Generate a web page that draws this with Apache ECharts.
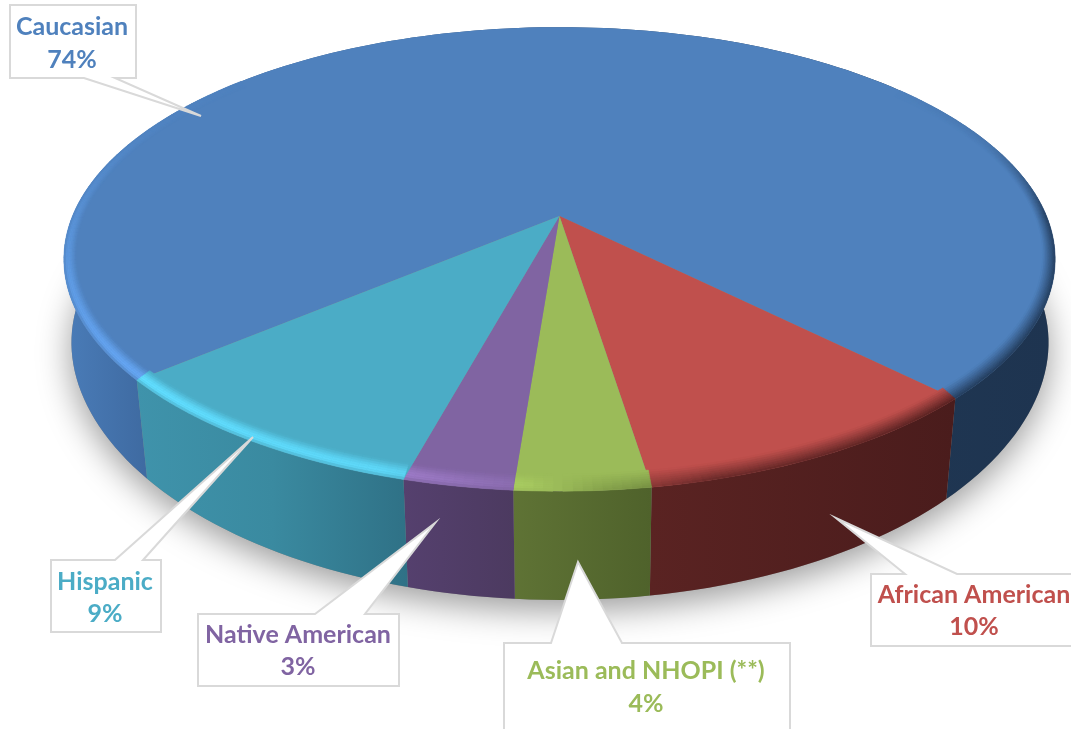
<!DOCTYPE html>
<html>
<head>
<meta charset="utf-8">
<style>
  html, body { margin: 0; background: #fff; overflow: hidden; }
  #chart { width: 1071px; height: 729px; }
</style>
<script src="https://cdn.jsdelivr.net/npm/echarts@6/dist/echarts.min.js"></script>
</head>
<body>
<div id="chart"></div>
<script>
const categories = ['Caucasian', 'African American', 'Asian and NHOPI (**)', 'Native American', 'Hispanic']
const shares = [73.7, 10.0, 3.7, 3.0, 9.6]
const shareLabels = ['74%', '10%', '4%', '3%', '9%']

const topColors = ['#4f81bd', '#c0504d', '#9bbb59', '#8064a2', '#4bacc6']
const sideStops = [
  [[0, '#4a7cb8'], [0.08, '#3f6ba2'], [0.85, '#1f3652'], [1, '#1e3450']],
  [[0, '#5a2322'], [1, '#4a1c1c']],
  [[0, '#5f7335'], [1, '#4f622b']],
  [[0, '#55406e'], [1, '#4c3a60']],
  [[0, '#3f93ab'], [0.5, '#3a8aa0'], [1, '#2f7186']]
]

// picture geometry
const START_ANGLE = 139.8
const TOP = { cx: 559.5, cy: 216, a: 487, b: 224, k: 0.186 }
const BOTTOM = { cx: 560, cy: 299, a: 475, b: 245, k: 0.186, bulge: 0.012 }

// left, top, right, bottom, wedge side, wedge base a, wedge base b, tip x, tip y, text x, line 1 y, line 2 y
const calloutBoxes = [
  [10, 5, 136, 78, 'bottom', 84, 115, 201, 116, 72, 27, 60],
  [871, 574, 1090, 646, 'top', 905, 957, 836, 518, 974, 595, 627],
  [504, 643, 790, 740, 'top', 551, 622, 578, 562, 646, 671, 704],
  [198, 614, 399, 686, 'top', 315, 365, 435, 523, 298, 635, 667],
  [51, 560, 161, 632, 'top', 115, 143, 253, 437, 105, 582, 614]
]

// bevel light around the rim: [angle, light], positive = highlight, negative = shaded
const rimLight = [[0, -0.85], [45, -0.9], [75, -0.75], [86, -0.3], [93, 0.2], [108, 0.75], [140, 0.85],
  [165, 0.6], [185, 0.3], [205, 0.08], [225, 0], [320, 0], [340, -0.15], [352, -0.55], [360, -0.85]]
const RIM_STEPS = 8
const RIM_U = 0.024
const RIM_V = 0.052

const project = (plane, deg, su = 1, sv = 1) => {
  const t = deg * Math.PI / 180
  const u = Math.cos(t) * su * (1 + (plane.bulge || 0) * Math.pow(Math.cos(t), 8))
  const v = Math.sin(t) * sv
  const w = 1 - plane.k * v
  return [plane.cx + plane.a * u / w, plane.cy + plane.b * v / w]
}

const arc = (plane, from, to, su, sv) => {
  const n = Math.max(2, Math.ceil((to - from) / 1.5))
  const pts = []
  for (let i = 0; i <= n; i++) {
    pts.push(project(plane, from + (to - from) * i / n, su, sv))
  }
  return pts
}

const toRgb = hex => [1, 3, 5].map(i => parseInt(hex.substr(i, 2), 16))
const rgbStr = c => `rgb(${c.map(x => Math.max(0, Math.min(255, Math.round(x)))).join(',')})`

const lightAt = deg => {
  const d = ((deg % 360) + 360) % 360
  for (let i = 1; i < rimLight.length; i++) {
    if (d <= rimLight[i][0]) {
      const [a0, l0] = rimLight[i - 1]
      const [a1, l1] = rimLight[i]
      return l0 + (l1 - l0) * (d - a0) / (a1 - a0)
    }
  }
  return 0
}

const rimColor = (index, deg, t) => {
  const base = toRgb(topColors[index])
  const light = lightAt(deg)
  if (light >= 0) {
    const glow = Math.pow(Math.sin(Math.PI * Math.pow(t, 0.6)), 1.3)
    const m = 1 + 0.34 * light * glow
    return rgbStr(base.map(x => x * m))
  }
  const stops = sideStops[index]
  const dark = toRgb(stops[stops.length - 1][1])
  const f = -light * Math.pow(1 - t, 1.1)
  return rgbStr(base.map((x, i) => x + (dark[i] - x) * f))
}

let cursor = START_ANGLE
const rows = shares.map(s => {
  const row = [s, cursor, cursor + s * 3.6]
  cursor = row[2]
  return row
})

const renderSide = (params, api) => {
  const index = params.dataIndex
  const from = api.value(1)
  const to = api.value(2)
  const children = []
  if (index === 0) {
    children.push({
      type: 'polygon',
      shape: { points: arc(BOTTOM, 0, 360) },
      style: { fill: '#888', shadowBlur: 34, shadowColor: 'rgba(0,0,0,0.4)', shadowOffsetX: 0, shadowOffsetY: 10 }
    })
  }
  const xs = arc(TOP, from, to).concat(arc(BOTTOM, from, to)).map(p => p[0])
  const x0 = Math.min(...xs)
  const x1 = Math.max(...xs)
  children.push({
    type: 'polygon',
    shape: { points: arc(TOP, from, to).concat(arc(BOTTOM, from, to).reverse()) },
    style: { fill: new echarts.graphic.LinearGradient(x0, 0, x1, 0, sideStops[index].map(([offset, color]) => ({ offset, color })), true) }
  })
  return { type: 'group', children }
}

const renderFace = (params, api) => {
  const index = params.dataIndex
  const from = api.value(1)
  const to = api.value(2)
  const children = [{
    type: 'polygon',
    shape: { points: [[TOP.cx, TOP.cy]].concat(arc(TOP, from, to)) },
    style: { fill: topColors[index] }
  }]
  // bevel, thin quads along the rim, drawn from the inside out
  const n = Math.ceil(to - from)
  for (let i = 0; i < n; i++) {
    const a0 = from + (to - from) * i / n
    const a1 = from + (to - from) * (i + 1) / n
    const mid = (a0 + a1) / 2
    if (Math.abs(lightAt(mid)) < 0.01) continue
    for (let b = RIM_STEPS - 1; b >= 0; b--) {
      const s0 = b / RIM_STEPS
      const s1 = (b + 1) / RIM_STEPS
      const color = rimColor(index, mid, (b + 0.5) / RIM_STEPS)
      children.push({
        type: 'polygon',
        shape: {
          points: [
            project(TOP, a0, 1 - RIM_U * s0, 1 - RIM_V * s0),
            project(TOP, a1, 1 - RIM_U * s0, 1 - RIM_V * s0),
            project(TOP, a1, 1 - RIM_U * s1, 1 - RIM_V * s1),
            project(TOP, a0, 1 - RIM_U * s1, 1 - RIM_V * s1)
          ]
        },
        style: { fill: color, stroke: color, lineWidth: 0.5 }
      })
    }
  }
  return { type: 'group', children }
}

const renderCallout = (params, api) => {
  const index = params.dataIndex
  const [l, t, r, b, side, wa, wb, tx, ty, textX, y1, y2] = calloutBoxes[index]
  const points = side === 'top'
    ? [[l, t], [wa, t], [tx, ty], [wb, t], [r, t], [r, b], [l, b]]
    : [[l, t], [r, t], [r, b], [wb, b], [tx, ty], [wa, b], [l, b]]
  const textStyle = { fill: topColors[index], font: 'bold 25px Lato', align: 'center', verticalAlign: 'middle' }
  return {
    type: 'group',
    children: [
      { type: 'polygon', shape: { points }, style: { fill: '#fff', stroke: '#d9d9d9', lineWidth: 2 } },
      { type: 'text', style: { ...textStyle, text: categories[index], x: textX, y: y1 } },
      { type: 'text', style: { ...textStyle, text: shareLabels[index], x: textX, y: y2 } }
    ]
  }
}

const chart = echarts.init(document.getElementById('chart'), null, { renderer: 'canvas' })
chart.setOption({
  animation: false,
  backgroundColor: '#fff',
  series: [
    { type: 'custom', coordinateSystem: 'none', z: 1, silent: true, data: rows, renderItem: renderSide },
    { type: 'custom', coordinateSystem: 'none', z: 2, silent: true, data: rows, renderItem: renderFace },
    { type: 'custom', coordinateSystem: 'none', z: 3, silent: true, data: rows, renderItem: renderCallout }
  ]
})
</script>
</body>
</html>
